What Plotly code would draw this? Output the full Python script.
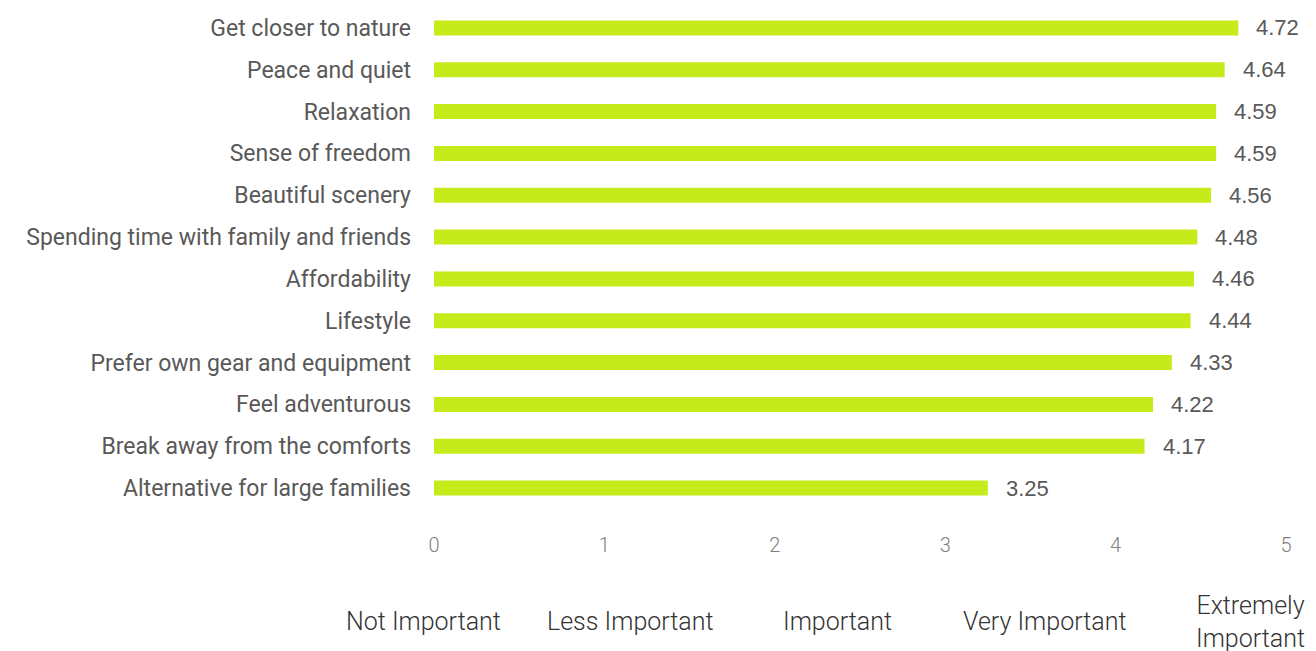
import plotly.graph_objects as go

# Mean importance score per motivation (scale 0-5)
categories = [
    "Get closer to nature",
    "Peace and quiet",
    "Relaxation",
    "Sense of freedom",
    "Beautiful scenery",
    "Spending time with family and friends",
    "Affordability",
    "Lifestyle",
    "Prefer own gear and equipment",
    "Feel adventurous",
    "Break away from the comforts",
    "Alternative for large families",
]
scores = [4.72, 4.64, 4.59, 4.59, 4.56, 4.48, 4.46, 4.44, 4.33, 4.22, 4.17, 3.25]

tick_values = [0, 1, 2, 3, 4, 5]
scale_labels = ["Not Important", "Less Important", "Important",
                "Very Important", "Extremely<br>Important"]

BAR_COLOR = "#C5EC1A"
LABEL_GREY = "#595959"

fig = go.Figure(
    go.Bar(
        x=scores,
        y=categories,
        orientation="h",
        marker=dict(color=BAR_COLOR, line=dict(width=0)),
        hoverinfo="x+y",
    )
)

# Value labels just past each bar end
for cat, val in zip(categories, scores):
    fig.add_annotation(
        x=val, y=cat, xref="x", yref="y",
        text=f"{val:.2f}", showarrow=False,
        xanchor="left", yanchor="middle", xshift=16,
        font=dict(family="Liberation Sans", size=22, color=LABEL_GREY),
    )

fig.update_layout(
    width=1316,
    height=651,
    margin=dict(l=434, r=30, t=7, b=142),
    paper_bgcolor="white",
    plot_bgcolor="white",
    bargap=0.64,
    showlegend=False,
)

fig.update_yaxes(
    autorange="reversed",
    showgrid=False,
    showline=False,
    zeroline=False,
    ticks="",
    ticklabelstandoff=22,
    tickfont=dict(family="Roboto", size=23, color=LABEL_GREY),
)

fig.update_xaxes(
    range=[0, 5],
    tickvals=tick_values,
    showgrid=False,
    showline=False,
    zeroline=False,
    ticks="",
    ticklabelstandoff=22,
    tickfont=dict(family="Roboto", size=20, color="#808080", weight=300),
)

# Verbal scale beneath the numeric axis
label_x = [-0.012, 0.231, 0.474, 0.717, 0.958]
for xpos, lab in zip(label_x, scale_labels):
    fig.add_annotation(
        x=xpos, y=-0.225, xref="paper", yref="paper",
        text=lab, showarrow=False, xanchor="center", yanchor="middle",
        font=dict(family="Roboto", size=25, color="#333333", weight=300),
    )

fig.write_html("out.html")
